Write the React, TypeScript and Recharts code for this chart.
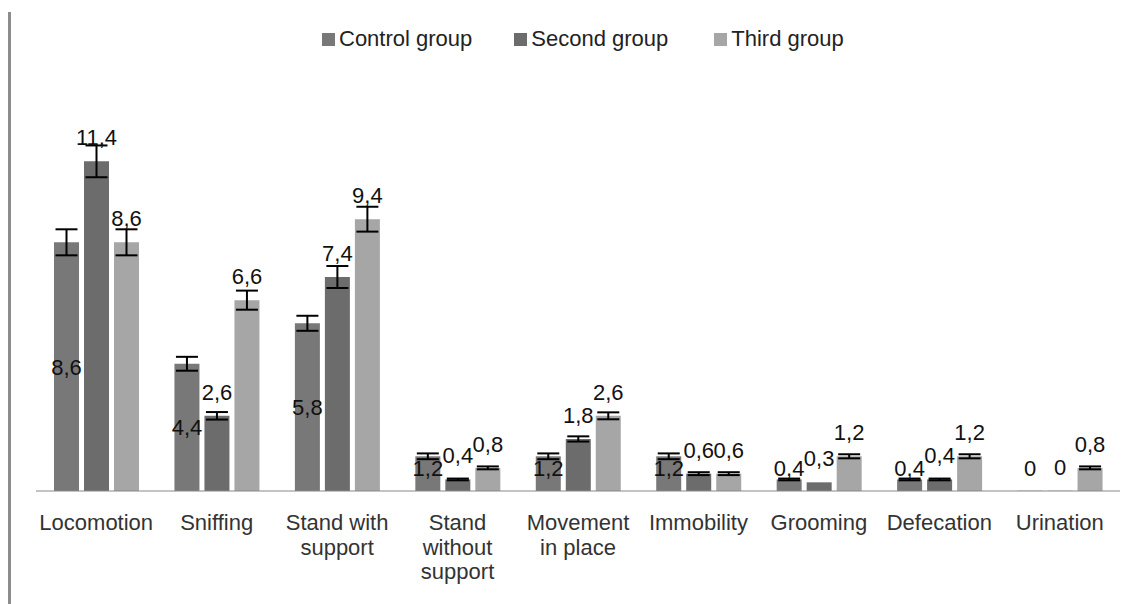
import React from 'react';
import { BarChart, Bar, XAxis, YAxis, ErrorBar, LabelList } from 'recharts';

const categories = [
  'Locomotion',
  'Sniffing',
  'Stand with\nsupport',
  'Stand\nwithout\nsupport',
  'Movement\nin place',
  'Immobility',
  'Grooming',
  'Defecation',
  'Urination',
];

const controlGroup = [8.6, 4.4, 5.8, 1.2, 1.2, 1.2, 0.4, 0.4, 0];
const secondGroup = [11.4, 2.6, 7.4, 0.4, 1.8, 0.6, 0.3, 0.4, 0];
const thirdGroup = [8.6, 6.6, 9.4, 0.8, 2.6, 0.6, 1.2, 1.2, 0.8];

const controlErr = [0.45, 0.24, 0.26, 0.1, 0.1, 0.1, 0.03, 0.03, null];
const secondErr = [0.55, 0.13, 0.38, 0.03, 0.09, 0.05, null, 0.03, null];
const thirdErr = [0.45, 0.33, 0.43, 0.05, 0.12, 0.05, 0.07, 0.07, 0.05];

const series = [
  { key: 'control', name: 'Control group', color: '#787878' },
  { key: 'second', name: 'Second group', color: '#6c6c6c' },
  { key: 'third', name: 'Third group', color: '#a6a6a6' },
];

const data = categories.map((name, i) => ({
  name,
  control: controlGroup[i],
  second: secondGroup[i],
  third: thirdGroup[i],
  controlErr: controlErr[i],
  secondErr: secondErr[i],
  thirdErr: thirdErr[i],
}));

const FONT = '"Liberation Sans", Arial, sans-serif';
const fmt = (v: number) => String(v).replace('.', ',');

// zero bars get a hair of height so that their "0" label is still drawn
const zeroMin = (v: any) => (Number(v) === 0 ? 0.2 : 0);

// control labels sit in the middle of the bar, but never lower than 23px above the axis
const CenterLabel = (props: any) => {
  const { x, y, width, height, value } = props;
  const cy = Math.min(y + height / 2, y + height - 23);
  return (
    <text x={x + width / 2} y={cy + 8} textAnchor="middle" fontSize={22} fontFamily={FONT} fill="#111">
      {fmt(value)}
    </text>
  );
};

const TopLabel = (props: any) => {
  const { x, y, width, value } = props;
  return (
    <text x={x + width / 2} y={y - 24 + 8} textAnchor="middle" fontSize={22} fontFamily={FONT} fill="#111">
      {fmt(value)}
    </text>
  );
};

const CategoryTick = (props: any) => {
  const { x, payload } = props;
  const lines = String(payload.value).split('\n');
  return (
    <text textAnchor="middle" fontSize={22} fontFamily={FONT} fill="#333">
      {lines.map((l, i) => (
        <tspan key={i} x={x} y={530 + i * 24.5}>
          {l}
        </tspan>
      ))}
    </text>
  );
};

export default function App() {
  return (
    <div style={{ position: 'absolute', left: 0, top: 0, width: 1136, height: 604, background: '#fff', overflow: 'hidden' }}>
      <div style={{ position: 'absolute', left: 8, top: 12, width: 3, height: 592, background: '#8c8c8c' }} />
      <div
        style={{
          position: 'absolute',
          left: 322,
          top: 28,
          display: 'flex',
          fontFamily: FONT,
          fontSize: 22,
          color: '#222',
          lineHeight: '22px',
        }}
      >
        {series.map((s, i) => (
          <div key={s.key} style={{ display: 'flex', alignItems: 'center', marginLeft: i === 0 ? 0 : i === 1 ? 42 : 46 }}>
            <span style={{ display: 'inline-block', width: 13, height: 13, background: s.color, marginRight: 4 }} />
            <span>{s.name}</span>
          </div>
        ))}
      </div>
      <BarChart
        width={1136}
        height={604}
        data={data}
        margin={{ top: 144, right: 16, left: 36, bottom: 0 }}
        barSize={25}
        barGap={5}
      >
        <XAxis
          dataKey="name"
          interval={0}
          height={113}
          tickLine={false}
          axisLine={{ stroke: '#888' }}
          tick={<CategoryTick />}
        />
        <YAxis hide domain={[0, 12]} />
        <Bar dataKey="control" name="Control group" fill="#787878" minPointSize={zeroMin} isAnimationActive={false}>
          <ErrorBar dataKey="controlErr" width={11} strokeWidth={2} stroke="#000" direction="y" />
          <LabelList dataKey="control" content={<CenterLabel />} />
        </Bar>
        <Bar dataKey="second" name="Second group" fill="#6c6c6c" minPointSize={zeroMin} isAnimationActive={false}>
          <ErrorBar dataKey="secondErr" width={11} strokeWidth={2} stroke="#000" direction="y" />
          <LabelList dataKey="second" content={<TopLabel />} />
        </Bar>
        <Bar dataKey="third" name="Third group" fill="#a6a6a6" isAnimationActive={false}>
          <ErrorBar dataKey="thirdErr" width={11} strokeWidth={2} stroke="#000" direction="y" />
          <LabelList dataKey="third" content={<TopLabel />} />
        </Bar>
      </BarChart>
    </div>
  );
}
